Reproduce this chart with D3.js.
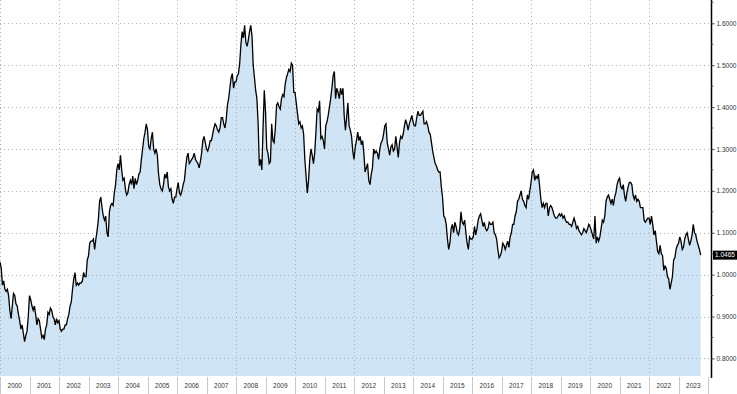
<!DOCTYPE html>
<html>
<head>
<meta charset="utf-8">
<script src="https://cdn.jsdelivr.net/npm/d3@7"></script>
<style>
  body { margin: 0; background: #fff; }
  text { font-family: "Liberation Sans", Arial, sans-serif; }
</style>
</head>
<body>
<div id="my_dataviz"></div>
<script>
// semi-monthly EUR/USD readings, 24 per year (1st and 15th of each month)
var rates2000 = [1.030, 1.015, 0.975, 0.985, 0.965, 0.960, 0.965, 0.950, 0.915, 0.895, 0.925, 0.955, 0.950, 0.930, 0.925, 0.905, 0.890, 0.870, 0.880, 0.860, 0.840, 0.855, 0.865, 0.900];
var rates2001 = [0.950, 0.940, 0.925, 0.915, 0.925, 0.905, 0.880, 0.895, 0.890, 0.870, 0.850, 0.855, 0.845, 0.870, 0.880, 0.910, 0.905, 0.920, 0.915, 0.900, 0.895, 0.880, 0.895, 0.885];
var rates2002 = [0.890, 0.870, 0.865, 0.870, 0.870, 0.880, 0.880, 0.895, 0.905, 0.925, 0.935, 0.965, 0.990, 1.005, 0.975, 0.980, 0.975, 0.980, 0.980, 0.985, 1.005, 0.995, 0.995, 1.035];
var rates2003 = [1.045, 1.075, 1.080, 1.080, 1.085, 1.060, 1.085, 1.105, 1.130, 1.175, 1.185, 1.160, 1.140, 1.130, 1.140, 1.100, 1.090, 1.150, 1.165, 1.170, 1.165, 1.195, 1.215, 1.250];
var rates2004 = [1.265, 1.250, 1.285, 1.250, 1.225, 1.230, 1.205, 1.190, 1.195, 1.215, 1.225, 1.215, 1.235, 1.205, 1.230, 1.215, 1.225, 1.240, 1.245, 1.275, 1.300, 1.325, 1.340, 1.360];
var rates2005 = [1.345, 1.305, 1.300, 1.325, 1.340, 1.300, 1.290, 1.300, 1.285, 1.240, 1.215, 1.205, 1.200, 1.215, 1.240, 1.230, 1.245, 1.210, 1.200, 1.205, 1.180, 1.170, 1.185, 1.185];
var rates2006 = [1.205, 1.220, 1.195, 1.190, 1.200, 1.215, 1.225, 1.255, 1.280, 1.290, 1.265, 1.270, 1.275, 1.280, 1.290, 1.275, 1.270, 1.265, 1.255, 1.270, 1.290, 1.320, 1.330, 1.315];
var rates2007 = [1.300, 1.295, 1.305, 1.320, 1.320, 1.335, 1.350, 1.360, 1.355, 1.345, 1.340, 1.350, 1.375, 1.375, 1.360, 1.350, 1.370, 1.405, 1.420, 1.445, 1.470, 1.480, 1.445, 1.460];
var rates2008 = [1.460, 1.475, 1.480, 1.505, 1.550, 1.580, 1.565, 1.595, 1.555, 1.545, 1.560, 1.580, 1.595, 1.570, 1.500, 1.470, 1.440, 1.420, 1.360, 1.260, 1.275, 1.250, 1.350, 1.440];
var rates2009 = [1.390, 1.300, 1.290, 1.265, 1.270, 1.360, 1.320, 1.315, 1.350, 1.405, 1.410, 1.400, 1.395, 1.420, 1.430, 1.425, 1.455, 1.470, 1.480, 1.490, 1.485, 1.505, 1.500, 1.435];
var rates2010 = [1.435, 1.410, 1.385, 1.360, 1.365, 1.350, 1.355, 1.335, 1.275, 1.235, 1.195, 1.225, 1.275, 1.300, 1.285, 1.265, 1.290, 1.340, 1.395, 1.390, 1.415, 1.325, 1.330, 1.320];
var rates2011 = [1.300, 1.355, 1.365, 1.380, 1.400, 1.420, 1.445, 1.475, 1.485, 1.420, 1.445, 1.435, 1.420, 1.445, 1.430, 1.445, 1.380, 1.345, 1.375, 1.410, 1.355, 1.345, 1.330, 1.295];
var rates2012 = [1.275, 1.305, 1.320, 1.340, 1.320, 1.330, 1.310, 1.320, 1.290, 1.245, 1.255, 1.265, 1.225, 1.215, 1.240, 1.255, 1.300, 1.290, 1.295, 1.290, 1.275, 1.300, 1.315, 1.320];
var rates2013 = [1.335, 1.355, 1.360, 1.315, 1.300, 1.285, 1.305, 1.310, 1.295, 1.300, 1.330, 1.305, 1.280, 1.315, 1.330, 1.325, 1.335, 1.355, 1.370, 1.360, 1.345, 1.360, 1.370, 1.380];
var rates2014 = [1.365, 1.355, 1.355, 1.375, 1.390, 1.380, 1.380, 1.385, 1.390, 1.360, 1.360, 1.365, 1.355, 1.340, 1.335, 1.315, 1.295, 1.280, 1.265, 1.260, 1.250, 1.245, 1.245, 1.210];
var rates2015 = [1.185, 1.140, 1.135, 1.120, 1.085, 1.060, 1.075, 1.110, 1.120, 1.100, 1.125, 1.115, 1.100, 1.095, 1.110, 1.150, 1.125, 1.120, 1.130, 1.100, 1.075, 1.060, 1.090, 1.085];
var rates2016 = [1.085, 1.090, 1.115, 1.095, 1.110, 1.130, 1.140, 1.145, 1.130, 1.115, 1.125, 1.110, 1.105, 1.110, 1.125, 1.120, 1.120, 1.125, 1.100, 1.095, 1.085, 1.060, 1.040, 1.045];
var rates2017 = [1.055, 1.075, 1.070, 1.060, 1.070, 1.080, 1.065, 1.090, 1.100, 1.120, 1.120, 1.140, 1.150, 1.175, 1.180, 1.190, 1.200, 1.180, 1.175, 1.165, 1.160, 1.190, 1.180, 1.200];
var rates2018 = [1.220, 1.245, 1.250, 1.225, 1.235, 1.230, 1.240, 1.210, 1.180, 1.160, 1.170, 1.160, 1.170, 1.170, 1.140, 1.160, 1.165, 1.160, 1.150, 1.140, 1.135, 1.135, 1.140, 1.145];
var rates2019 = [1.140, 1.145, 1.135, 1.140, 1.130, 1.125, 1.125, 1.120, 1.120, 1.115, 1.125, 1.135, 1.125, 1.110, 1.115, 1.105, 1.100, 1.095, 1.100, 1.110, 1.105, 1.100, 1.110, 1.120];
var rates2020 = [1.115, 1.105, 1.095, 1.085, 1.140, 1.075, 1.090, 1.080, 1.090, 1.110, 1.130, 1.125, 1.140, 1.175, 1.185, 1.190, 1.180, 1.170, 1.180, 1.165, 1.185, 1.195, 1.215, 1.225];
var rates2021 = [1.230, 1.210, 1.205, 1.215, 1.190, 1.175, 1.195, 1.210, 1.220, 1.220, 1.215, 1.190, 1.180, 1.190, 1.175, 1.180, 1.175, 1.160, 1.160, 1.160, 1.130, 1.125, 1.130, 1.135];
var rates2022 = [1.135, 1.120, 1.140, 1.120, 1.095, 1.105, 1.080, 1.055, 1.050, 1.070, 1.050, 1.045, 1.010, 1.020, 1.015, 0.995, 0.990, 0.965, 0.980, 0.995, 1.035, 1.040, 1.060, 1.070];
var rates2023 = [1.075, 1.090, 1.080, 1.060, 1.065, 1.085, 1.095, 1.100, 1.085, 1.070, 1.080, 1.095, 1.120, 1.100, 1.095, 1.080, 1.070, 1.060, 1.0465];

var years = d3.range(2000, 2024);
var yTicks = [0.8, 0.9, 1.0, 1.1, 1.2, 1.3, 1.4, 1.5, 1.6];
var yMinor = [0.85, 0.95, 1.05, 1.15, 1.25, 1.35, 1.45, 1.55, 1.65];
var lastValue = 1.0465;

var byYear = [rates2000, rates2001, rates2002, rates2003, rates2004, rates2005, rates2006, rates2007,
  rates2008, rates2009, rates2010, rates2011, rates2012, rates2013, rates2014, rates2015,
  rates2016, rates2017, rates2018, rates2019, rates2020, rates2021, rates2022, rates2023];

// flatten to {t, v} with t as fractional year
var data = [];
byYear.forEach(function(arr, i) {
  arr.forEach(function(v, j) { data.push({ t: years[i] + j / 24, v: v }); });
});

var W = 737, H = 394;
var plotRight = 711, plotBottom = 376;

var svg = d3.select("#my_dataviz")
  .append("svg")
    .attr("width", W)
    .attr("height", H);

svg.append("rect").attr("width", W).attr("height", H).attr("fill", "#fff");

var x = d3.scaleLinear().domain([2000, 2024.1]).range([0, plotRight]);
var y = d3.scaleLinear().domain([0.758, 1.6556]).range([plotBottom, 0]);

// area fill
svg.append("path")
  .datum(data)
  .attr("fill", "#cfe5f5")
  .attr("d", d3.area()
    .x(function(d) { return x(d.t); })
    .y0(plotBottom)
    .y1(function(d) { return y(d.v); }));

// dotted grid
svg.append("g")
  .selectAll("line")
  .data(yTicks)
  .enter()
  .append("line")
    .attr("x1", 0).attr("x2", plotRight)
    .attr("y1", function(d) { return Math.round(y(d)) + 0.5; })
    .attr("y2", function(d) { return Math.round(y(d)) + 0.5; })
    .attr("stroke", "#a9b3bd")
    .attr("stroke-dasharray", "1,3");

svg.append("g")
  .selectAll("line")
  .data(years.filter(function(d) { return d % 2 === 0; }))
  .enter()
  .append("line")
    .attr("x1", function(d) { return Math.round(x(d)) + 0.5; })
    .attr("x2", function(d) { return Math.round(x(d)) + 0.5; })
    .attr("y1", 0).attr("y2", plotBottom)
    .attr("stroke", "#a9b3bd")
    .attr("stroke-dasharray", "1,3");

// price line
svg.append("path")
  .datum(data)
  .attr("fill", "none")
  .attr("stroke", "#000")
  .attr("stroke-width", 1.3)
  .attr("stroke-linejoin", "miter")
  .attr("d", d3.line()
    .x(function(d) { return x(d.t); })
    .y(function(d) { return y(d.v); }));

// right axis
var yAxis = d3.axisRight(y)
  .tickValues(yTicks)
  .tickSize(3)
  .tickFormat(d3.format(".4f"));
var gy = svg.append("g")
  .attr("transform", "translate(" + (plotRight + 0.5) + ",0)")
  .call(yAxis);
gy.select(".domain").attr("stroke", "#000").attr("stroke-width", 1.5)
  .attr("d", "M0,0V" + (plotBottom + 2));
gy.selectAll(".tick line").attr("stroke", "#444");
gy.selectAll(".tick text").attr("x", 5).attr("fill", "#333").style("font-size", "6.5px");

// minor ticks
gy.selectAll(".minor")
  .data(yMinor)
  .enter()
  .append("line")
    .attr("class", "minor")
    .attr("x1", 0).attr("x2", 2)
    .attr("y1", function(d) { return y(d); })
    .attr("y2", function(d) { return y(d); })
    .attr("stroke", "#666");

// last price label
var lastY = y(lastValue);
svg.append("rect")
  .attr("x", plotRight + 2).attr("y", lastY - 4.5)
  .attr("width", 24).attr("height", 9)
  .attr("fill", "#000");
svg.append("text")
  .attr("x", plotRight + 14).attr("y", lastY)
  .attr("dy", "0.35em")
  .attr("text-anchor", "middle")
  .attr("fill", "#fff")
  .style("font-size", "6.5px")
  .text(d3.format(".4f")(lastValue));

// bottom year band
svg.append("g")
  .selectAll("line")
  .data(years.concat([2024]))
  .enter()
  .append("line")
    .attr("x1", function(d) { return Math.round(x(d)) + 0.5; })
    .attr("x2", function(d) { return Math.round(x(d)) + 0.5; })
    .attr("y1", plotBottom + 1).attr("y2", H)
    .attr("stroke", "#c8c8c8");

svg.append("g")
  .selectAll("text")
  .data(years)
  .enter()
  .append("text")
    .attr("x", function(d) { return x(d + 0.5); })
    .attr("y", 386)
    .attr("dy", "0.35em")
    .attr("text-anchor", "middle")
    .attr("fill", "#333")
    .style("font-size", "6.5px")
    .text(function(d) { return d; });
</script>
</body>
</html>
